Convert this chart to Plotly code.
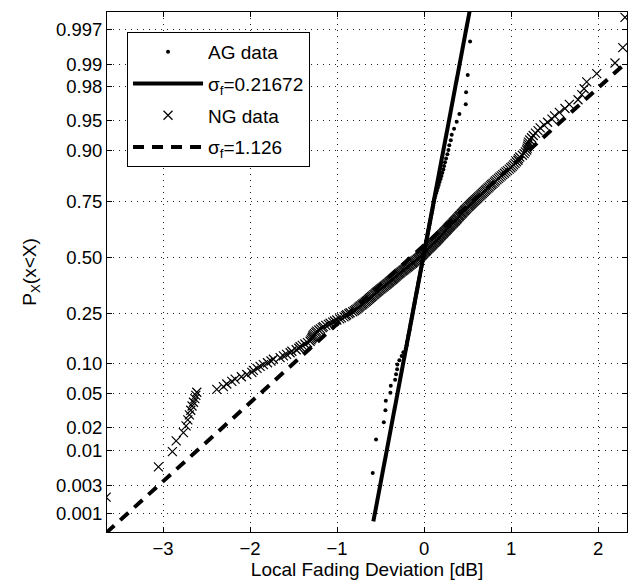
import plotly.graph_objects as go
from statistics import NormalDist

nd = NormalDist()

# ---------------- data (sorted sample values, dB) ----------------
ag_values = [
    -0.590, -0.552, -0.463, -0.444, -0.440, -0.387, -0.383, -0.333, -0.322, -0.310,
    -0.307, -0.284, -0.257, -0.238, -0.210, -0.200, -0.195, -0.185, -0.180, -0.172,
    -0.165, -0.160, -0.155, -0.148, -0.143, -0.138, -0.132, -0.127, -0.122, -0.117,
    -0.112, -0.107, -0.103, -0.098, -0.094, -0.088, -0.084, -0.079, -0.074, -0.070,
    -0.066, -0.061, -0.057, -0.052, -0.048, -0.044, -0.039, -0.035, -0.030, -0.026,
    -0.021, -0.017, -0.013, -0.009, -0.005, 0.000, 0.004, 0.008, 0.013, 0.017,
    0.021, 0.026, 0.030, 0.034, 0.039, 0.043, 0.048, 0.052, 0.057, 0.061,
    0.066, 0.070, 0.075, 0.080, 0.085, 0.090, 0.095, 0.100, 0.105, 0.110,
    0.116, 0.121, 0.130, 0.140, 0.148, 0.158, 0.168, 0.178, 0.190, 0.200,
    0.210, 0.222, 0.230, 0.241, 0.253, 0.268, 0.280, 0.290, 0.307, 0.318,
    0.345, 0.375, 0.406, 0.479, 0.483, 0.502, 0.529,
]

ng_values = [
    -3.655, -3.054, -2.893, -2.850, -2.767, -2.736, -2.716, -2.698, -2.682, -2.667,
    -2.651, -2.635, -2.624, -2.613, -2.383, -2.307, -2.268, -2.210, -2.172, -2.100,
    -2.038, -1.980, -1.962, -1.920, -1.885, -1.847, -1.800, -1.760, -1.732, -1.655,
    -1.617, -1.580, -1.540, -1.520, -1.470, -1.440, -1.425, -1.400, -1.370, -1.340,
    -1.310, -1.300, -1.290, -1.285, -1.280, -1.272, -1.260, -1.245, -1.233, -1.210,
    -1.190, -1.170, -1.157, -1.130, -1.100, -1.080, -1.050, -1.030, -1.003, -0.970,
    -0.950, -0.920, -0.900, -0.889, -0.865, -0.850, -0.820, -0.800, -0.785, -0.770,
    -0.756, -0.745, -0.733, -0.716, -0.703, -0.690, -0.677, -0.664, -0.651, -0.639,
    -0.627, -0.615, -0.603, -0.591, -0.579, -0.567, -0.556, -0.544, -0.532, -0.520,
    -0.508, -0.496, -0.484, -0.471, -0.459, -0.447, -0.435, -0.423, -0.410, -0.399,
    -0.388, -0.377, -0.365, -0.354, -0.343, -0.333, -0.322, -0.311, -0.300, -0.289,
    -0.277, -0.266, -0.254, -0.242, -0.230, -0.218, -0.207, -0.195, -0.183, -0.171,
    -0.160, -0.148, -0.136, -0.126, -0.115, -0.104, -0.092, -0.079, -0.067, -0.056,
    -0.048, -0.037, -0.026, -0.017, -0.009, 0.000, 0.009, 0.018, 0.027, 0.036,
    0.045, 0.055, 0.065, 0.075, 0.084, 0.093, 0.102, 0.111, 0.120, 0.130,
    0.140, 0.148, 0.157, 0.165, 0.174, 0.183, 0.192, 0.201, 0.211, 0.220,
    0.229, 0.238, 0.248, 0.257, 0.266, 0.275, 0.284, 0.293, 0.302, 0.312,
    0.322, 0.332, 0.341, 0.351, 0.360, 0.370, 0.379, 0.388, 0.398, 0.407,
    0.417, 0.427, 0.437, 0.447, 0.457, 0.467, 0.477, 0.487, 0.498, 0.510,
    0.521, 0.533, 0.544, 0.556, 0.568, 0.580, 0.593, 0.605, 0.618, 0.630,
    0.643, 0.655, 0.668, 0.681, 0.693, 0.706, 0.720, 0.735, 0.749, 0.764,
    0.778, 0.793, 0.808, 0.822, 0.838, 0.855, 0.872, 0.888, 0.905, 0.923,
    0.941, 0.959, 0.979, 0.998, 1.014, 1.030, 1.046, 1.062, 1.079, 1.085,
    1.100, 1.130, 1.150, 1.165, 1.180, 1.185, 1.190, 1.195, 1.200, 1.215,
    1.235, 1.255, 1.280, 1.310, 1.335, 1.380, 1.420, 1.470, 1.500, 1.555,
    1.620, 1.670, 1.770, 1.813, 1.840, 1.870, 1.985, 2.195, 2.284, 2.310,
]

# fitted reference lines (as drawn): centre, scale per standard-normal unit, x extent
ag_fit_mean = -0.01
ag_fit_scale = 0.18
ag_fit_x = [-0.583, 0.56]
ng_fit_mean = -0.152
ng_fit_scale = 1.055
ng_fit_x = [-3.655, 2.33]

prob_ticks = [0.001, 0.003, 0.01, 0.02, 0.05, 0.10, 0.25, 0.50, 0.75, 0.90, 0.95, 0.98, 0.99, 0.997]
prob_labels = ["0.001", "0.003", "0.01", "0.02", "0.05", "0.10", "0.25", "0.50",
               "0.75", "0.90", "0.95", "0.98", "0.99", "0.997"]
x_ticks = [-3, -2, -1, 0, 1, 2]


def plotting_positions(n):
    return [nd.inv_cdf((i - 0.5) / n) for i in range(1, n + 1)]


ag_z = plotting_positions(len(ag_values))
ng_z = plotting_positions(len(ng_values))
ag_line_z = [(x - ag_fit_mean) / ag_fit_scale for x in ag_fit_x]
ng_line_z = [(x - ng_fit_mean) / ng_fit_scale for x in ng_fit_x]
tick_z = [nd.inv_cdf(p) for p in prob_ticks]

FONT = "Liberation Sans, Arial, Helvetica, sans-serif"

fig = go.Figure()
fig.add_trace(go.Scatter(
    x=ag_values, y=ag_z, mode="markers", name="AG data", legendgroup="a",
    marker=dict(symbol="circle", size=4, color="black", line=dict(width=0)),
))
fig.add_trace(go.Scatter(
    x=ag_fit_x, y=ag_line_z, mode="lines", name="σ<sub>f</sub>=0.21672", legendgroup="b",
    line=dict(color="black", width=4),
))
fig.add_trace(go.Scatter(
    x=ng_values, y=ng_z, mode="markers", name="NG data", legendgroup="c",
    marker=dict(symbol="x-thin", size=9, color="black", line=dict(width=1.2, color="black")),
))
fig.add_trace(go.Scatter(
    x=ng_fit_x, y=ng_line_z, mode="lines", name="σ<sub>f</sub>=1.126", legendgroup="d",
    line=dict(color="black", width=4, dash="11px,8px"),
))

axis_common = dict(
    showline=True, linecolor="black", linewidth=1, mirror="ticks",
    ticks="inside", ticklen=5, tickcolor="black",
    showgrid=True, gridcolor="#222222", gridwidth=1, griddash="1px,5px",
    zeroline=False, tickfont=dict(size=18.5, color="black", family=FONT),
)

fig.update_xaxes(
    range=[-3.645, 2.333], tickvals=x_ticks,
    title=dict(text="Local Fading Deviation [dB]", font=dict(size=19, color="black", family=FONT), standoff=2),
    **axis_common,
)
fig.update_yaxes(
    range=[-3.31, 2.955], tickvals=tick_z, ticktext=prob_labels,
    title=dict(text="P<sub>X</sub>(x&lt;X)", font=dict(size=19, color="black", family=FONT), standoff=14),
    **axis_common,
)

fig.update_layout(
    width=629, height=586,
    margin=dict(l=107, r=2, t=12, b=54),
    paper_bgcolor="white", plot_bgcolor="white",
    font=dict(family=FONT, color="black"),
    legend=dict(
        x=0.0385, y=0.9615, xanchor="left", yanchor="top",
        bgcolor="white", bordercolor="black", borderwidth=1,
        font=dict(size=19, color="black", family=FONT),
        itemwidth=70, tracegroupgap=4,
    ),
    showlegend=True,
)

fig.write_html("out.html", config={"displayModeBar": False},
               post_script="document.body.style.margin='0';")
